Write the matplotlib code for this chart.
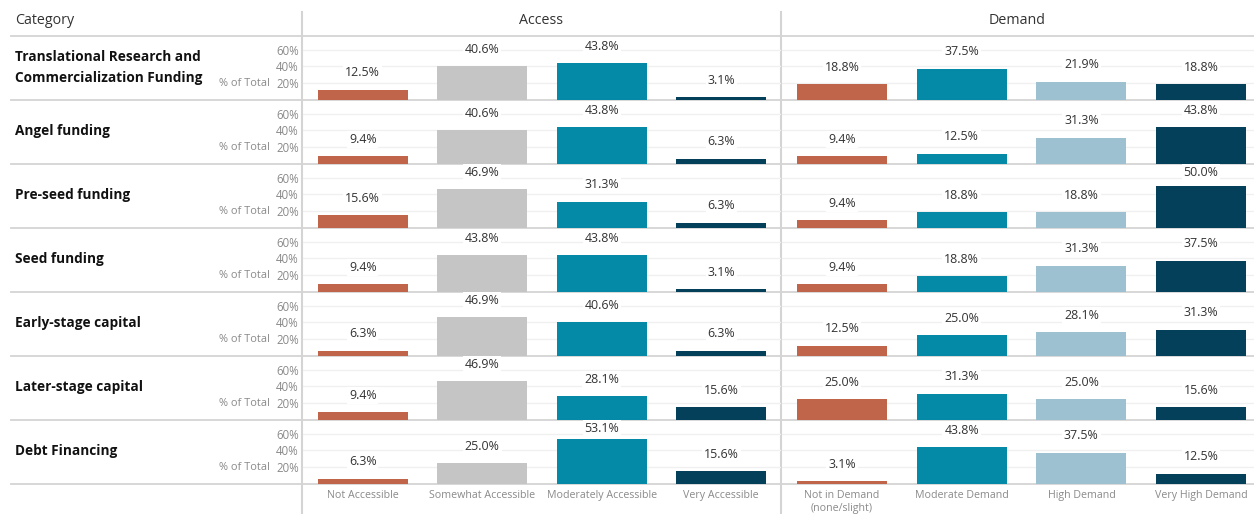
import matplotlib
matplotlib.use('agg')
from matplotlib import pyplot as plt

plt.rcParams['font.family'] = ['Open Sans', 'DejaVu Sans']

# ---- data ----
categories = ['Translational Research and\nCommercialization Funding',
              'Angel funding',
              'Pre-seed funding',
              'Seed funding',
              'Early-stage capital',
              'Later-stage capital',
              'Debt Financing']

access_labels = ['Not Accessible', 'Somewhat Accessible',
                 'Moderately Accessible', 'Very Accessible']
demand_labels = ['Not in Demand\n(none/slight)', 'Moderate Demand',
                 'High Demand', 'Very High Demand']

access_values = [[12.5, 40.6, 43.8, 3.1],
                 [9.4, 40.6, 43.8, 6.3],
                 [15.6, 46.9, 31.3, 6.3],
                 [9.4, 43.8, 43.8, 3.1],
                 [6.3, 46.9, 40.6, 6.3],
                 [9.4, 46.9, 28.1, 15.6],
                 [6.3, 25.0, 53.1, 15.6]]

demand_values = [[18.8, 37.5, 21.9, 18.8],
                 [9.4, 12.5, 31.3, 43.8],
                 [9.4, 18.8, 18.8, 50.0],
                 [9.4, 18.8, 31.3, 37.5],
                 [12.5, 25.0, 28.1, 31.3],
                 [25.0, 31.3, 25.0, 15.6],
                 [3.1, 43.8, 37.5, 12.5]]

access_colors = ['#C0644A', '#C5C5C5', '#0489A6', '#04405A']
demand_colors = ['#C0644A', '#0489A6', '#9DC1D0', '#04405A']

# ---- layout (pixels) ----
W, H = 1254, 514
fig = plt.figure(figsize=(W / 100, H / 100), dpi=100)

def px_axes(x0, y0, x1, y1):
    # y0 = top pixel, y1 = bottom pixel
    return fig.add_axes([x0 / W, 1 - y1 / H, (x1 - x0) / W, (y1 - y0) / H])

bg = px_axes(0, 0, W, H)
bg.set_xlim(0, W)
bg.set_ylim(H, 0)
bg.axis('off')

line_col = '#D4D4D4'
header_bottom = 36
row_h = 64
n_rows = len(categories)

# separators
for i in range(n_rows + 1):
    y = header_bottom + i * row_h
    bg.plot([11, W], [y, y], color=line_col, lw=1.3, zorder=1)
for x in (302, 781):
    bg.plot([x, x], [12, H], color=line_col, lw=1.5, zorder=1)

bg.text(15, 21, 'Category', fontsize=10.3, color='#333333', va='center')
bg.text(541, 21, 'Access', fontsize=10.3, color='#333333', va='center', ha='center')
bg.text(1017, 21, 'Demand', fontsize=10.3, color='#333333', va='center', ha='center')

ymax = 75
panes = [(303, 781, access_values, access_colors, access_labels),
         (782, 1261, demand_values, demand_colors, demand_labels)]

for i, cat in enumerate(categories):
    top = header_bottom + i * row_h + 1
    bottom = header_bottom + (i + 1) * row_h
    bg.text(15, (top + bottom) / 2 - 1, cat, fontsize=9.8, fontweight='bold',
            color='#111111', va='center', linespacing=1.55)
    bg.text(270, bottom - 16, '% of Total', fontsize=7.9, color='#8a8a8a',
            va='center', ha='right')
    for j, (x0, x1, vals, cols, labs) in enumerate(panes):
        ax = px_axes(x0, top, x1, bottom)
        ax.patch.set_alpha(0)
        row = vals[i]
        xs = list(range(len(row)))
        ax.bar(xs, row, width=0.75, color=cols, zorder=2)
        for x, v in zip(xs, row):
            ax.text(x, min(v + 20, 66), f'{v:.1f}%', ha='center', va='center',
                    fontsize=8.9, color='#333333', zorder=3,
                    bbox=dict(boxstyle='square,pad=0.15', fc='white', ec='none'))
        ax.set_xlim(-0.5, 3.5)
        ax.set_ylim(0, ymax)
        ax.set_yticks([20, 40, 60])
        ax.yaxis.grid(True, color='#F0F0F0', lw=1, zorder=0)
        ax.set_axisbelow(True)
        for s in ax.spines.values():
            s.set_visible(False)
        if j == 0:
            ax.set_yticklabels(['20%', '40%', '60%'], fontsize=8.3, color='#8a8a8a')
            ax.tick_params(axis='y', length=0, pad=3)
        else:
            ax.tick_params(axis='y', length=0, labelleft=False)
        if i == n_rows - 1:
            ax.set_xticks(xs)
            ax.set_xticklabels(labs, fontsize=7.7, color='#8a8a8a', va='top',
                               linespacing=1.3)
            ax.tick_params(axis='x', length=0, pad=4)
        else:
            ax.set_xticks([])

fig.savefig('out.png', dpi=100)
